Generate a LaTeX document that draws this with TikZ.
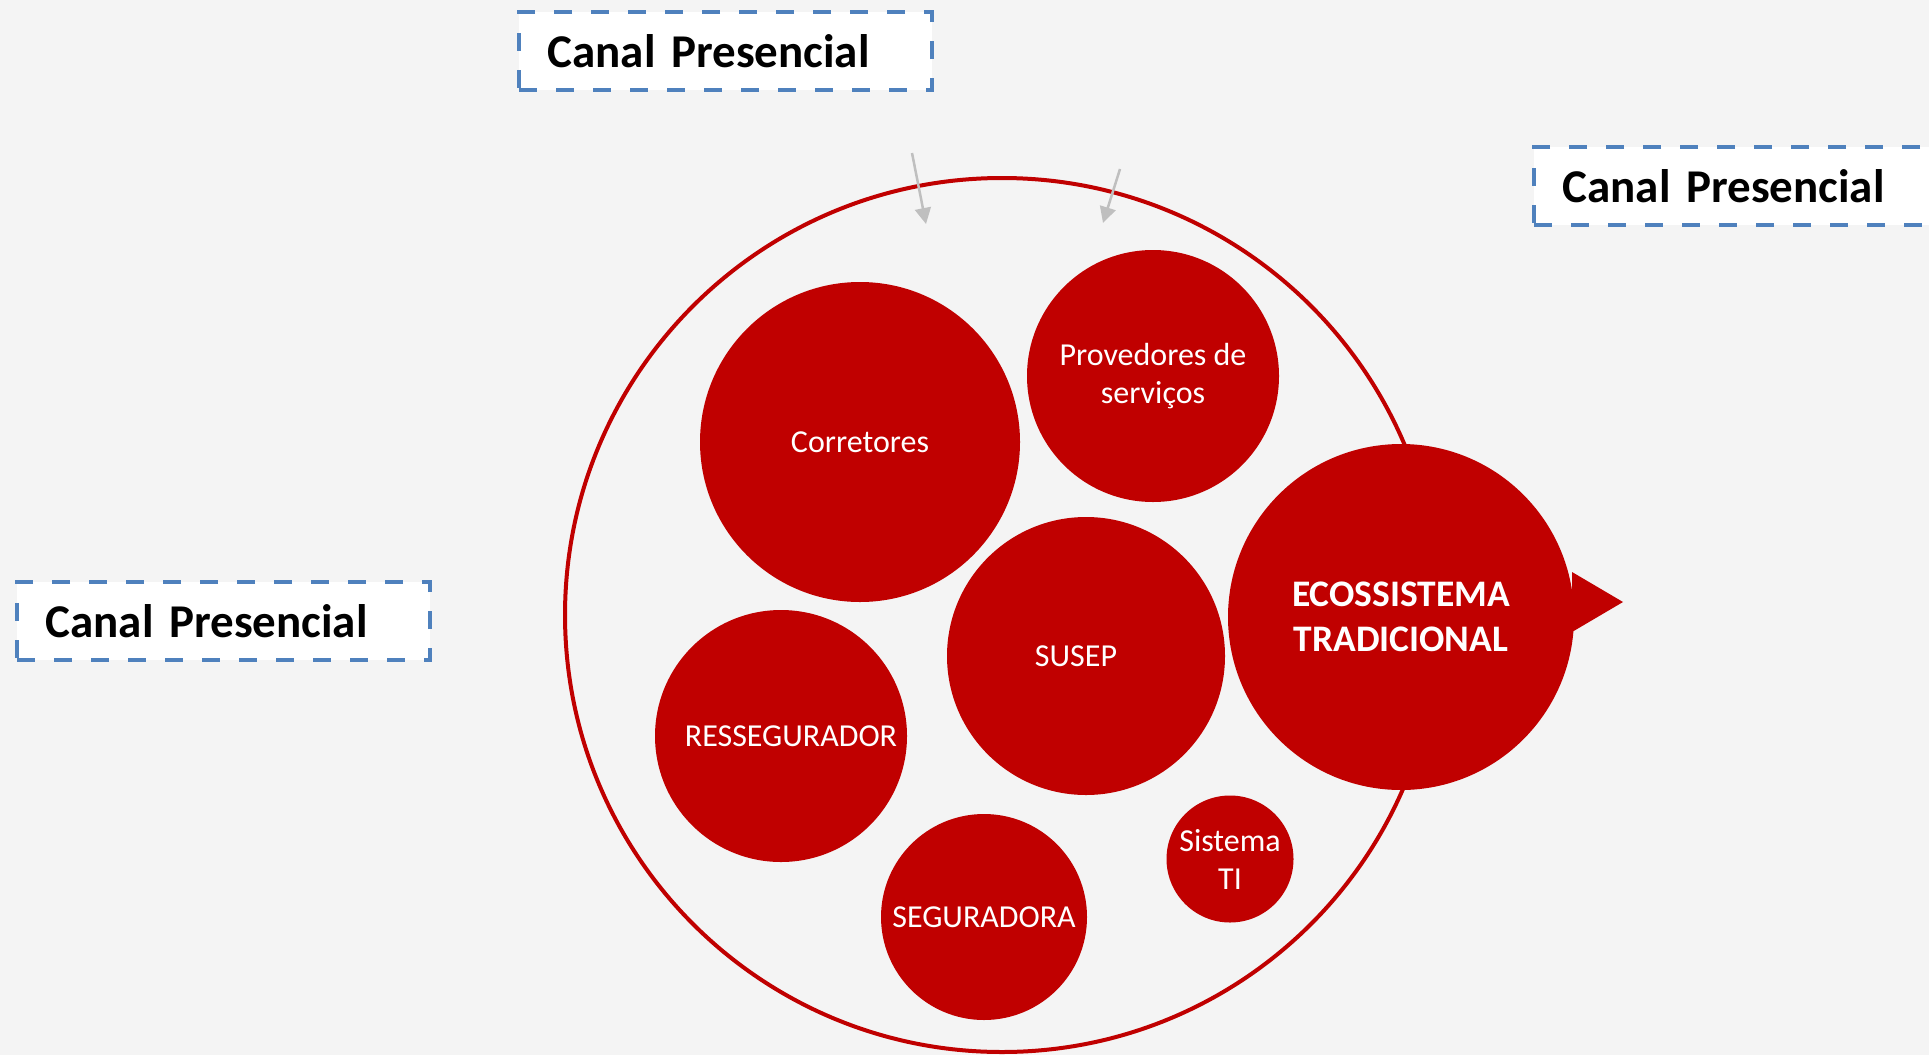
\documentclass[tikz,border=0pt]{standalone}
\usepackage{fontspec}
\setmainfont{Carlito}
\usetikzlibrary{arrows.meta}

\definecolor{pagebg}{RGB}{244,244,244}
\definecolor{ecored}{RGB}{192,0,0}
\definecolor{chanblue}{RGB}{79,129,189}
\definecolor{feedgray}{RGB}{191,191,191}

\tikzset{
  chanbox/.style={draw=chanblue, line width=4pt, dash pattern=on 18pt off 19pt,
    fill=white, anchor=north west, minimum width=413pt, minimum height=78pt,
    text width=356pt, inner xsep=28pt, align=left,
    font=\bfseries\fontsize{47}{56}\selectfont},
  actor/.style={circle, fill=ecored, text=white, inner sep=0pt, align=center,
    font=\fontsize{32}{38}\selectfont},
  feed/.style={draw=feedgray, line width=2.5pt, -{Triangle[length=16pt,width=16pt]}}
}

\begin{document}
\begin{tikzpicture}[x=1pt,y=-1pt]
    \useasboundingbox (0,0) rectangle (1929,1055);
    \fill[pagebg] (0,0) rectangle (1929,1055);

    % the channels
    \node[chanbox] (chtop) at (517,10) {Canal Presencial};
    \node[chanbox] (chright) at (1532,145) {Canal Presencial};
    \node[chanbox] (chleft) at (15,580) {Canal Presencial};

    % outer ring
    \draw[ecored, line width=4pt] (1002,615) circle (437);

    % the actors inside
    \node[actor, minimum size=320pt] (corretores) at (860,442) {Corretores};
    \node[actor, minimum size=252pt] (provedores) at (1153,376) {Provedores de\\servi\c{c}os};
    \node[actor, minimum size=278pt] (susep) at (1086,656) {SUSEP\hspace*{20pt}};
    \node[actor, minimum size=252pt] (ressegurador) at (781,736) {\hspace*{20pt}RESSEGURADOR};
    \node[actor, minimum size=206pt] (seguradora) at (984,917) {SEGURADORA};
    \node[actor, minimum size=127pt] (sistema) at (1230,859) {Sistema\\TI};

    \node[actor, minimum size=346pt, font=\bfseries\fontsize{37.5}{45}\selectfont]
        (eco) at (1401,617) {ECOSSISTEMA\\TRADICIONAL};
    \fill[ecored] (1572,572) -- (1623,602) -- (1572,632) -- cycle;

    % incoming arrows
    \coordinate (in1s) at (912,153);
    \coordinate (in1e) at (926,224);
    \coordinate (in2s) at (1120,169);
    \coordinate (in2e) at (1103,223);
    \draw[feed] (in1s) -- (in1e);
    \draw[feed] (in2s) -- (in2e);

\end{tikzpicture}
\end{document}
